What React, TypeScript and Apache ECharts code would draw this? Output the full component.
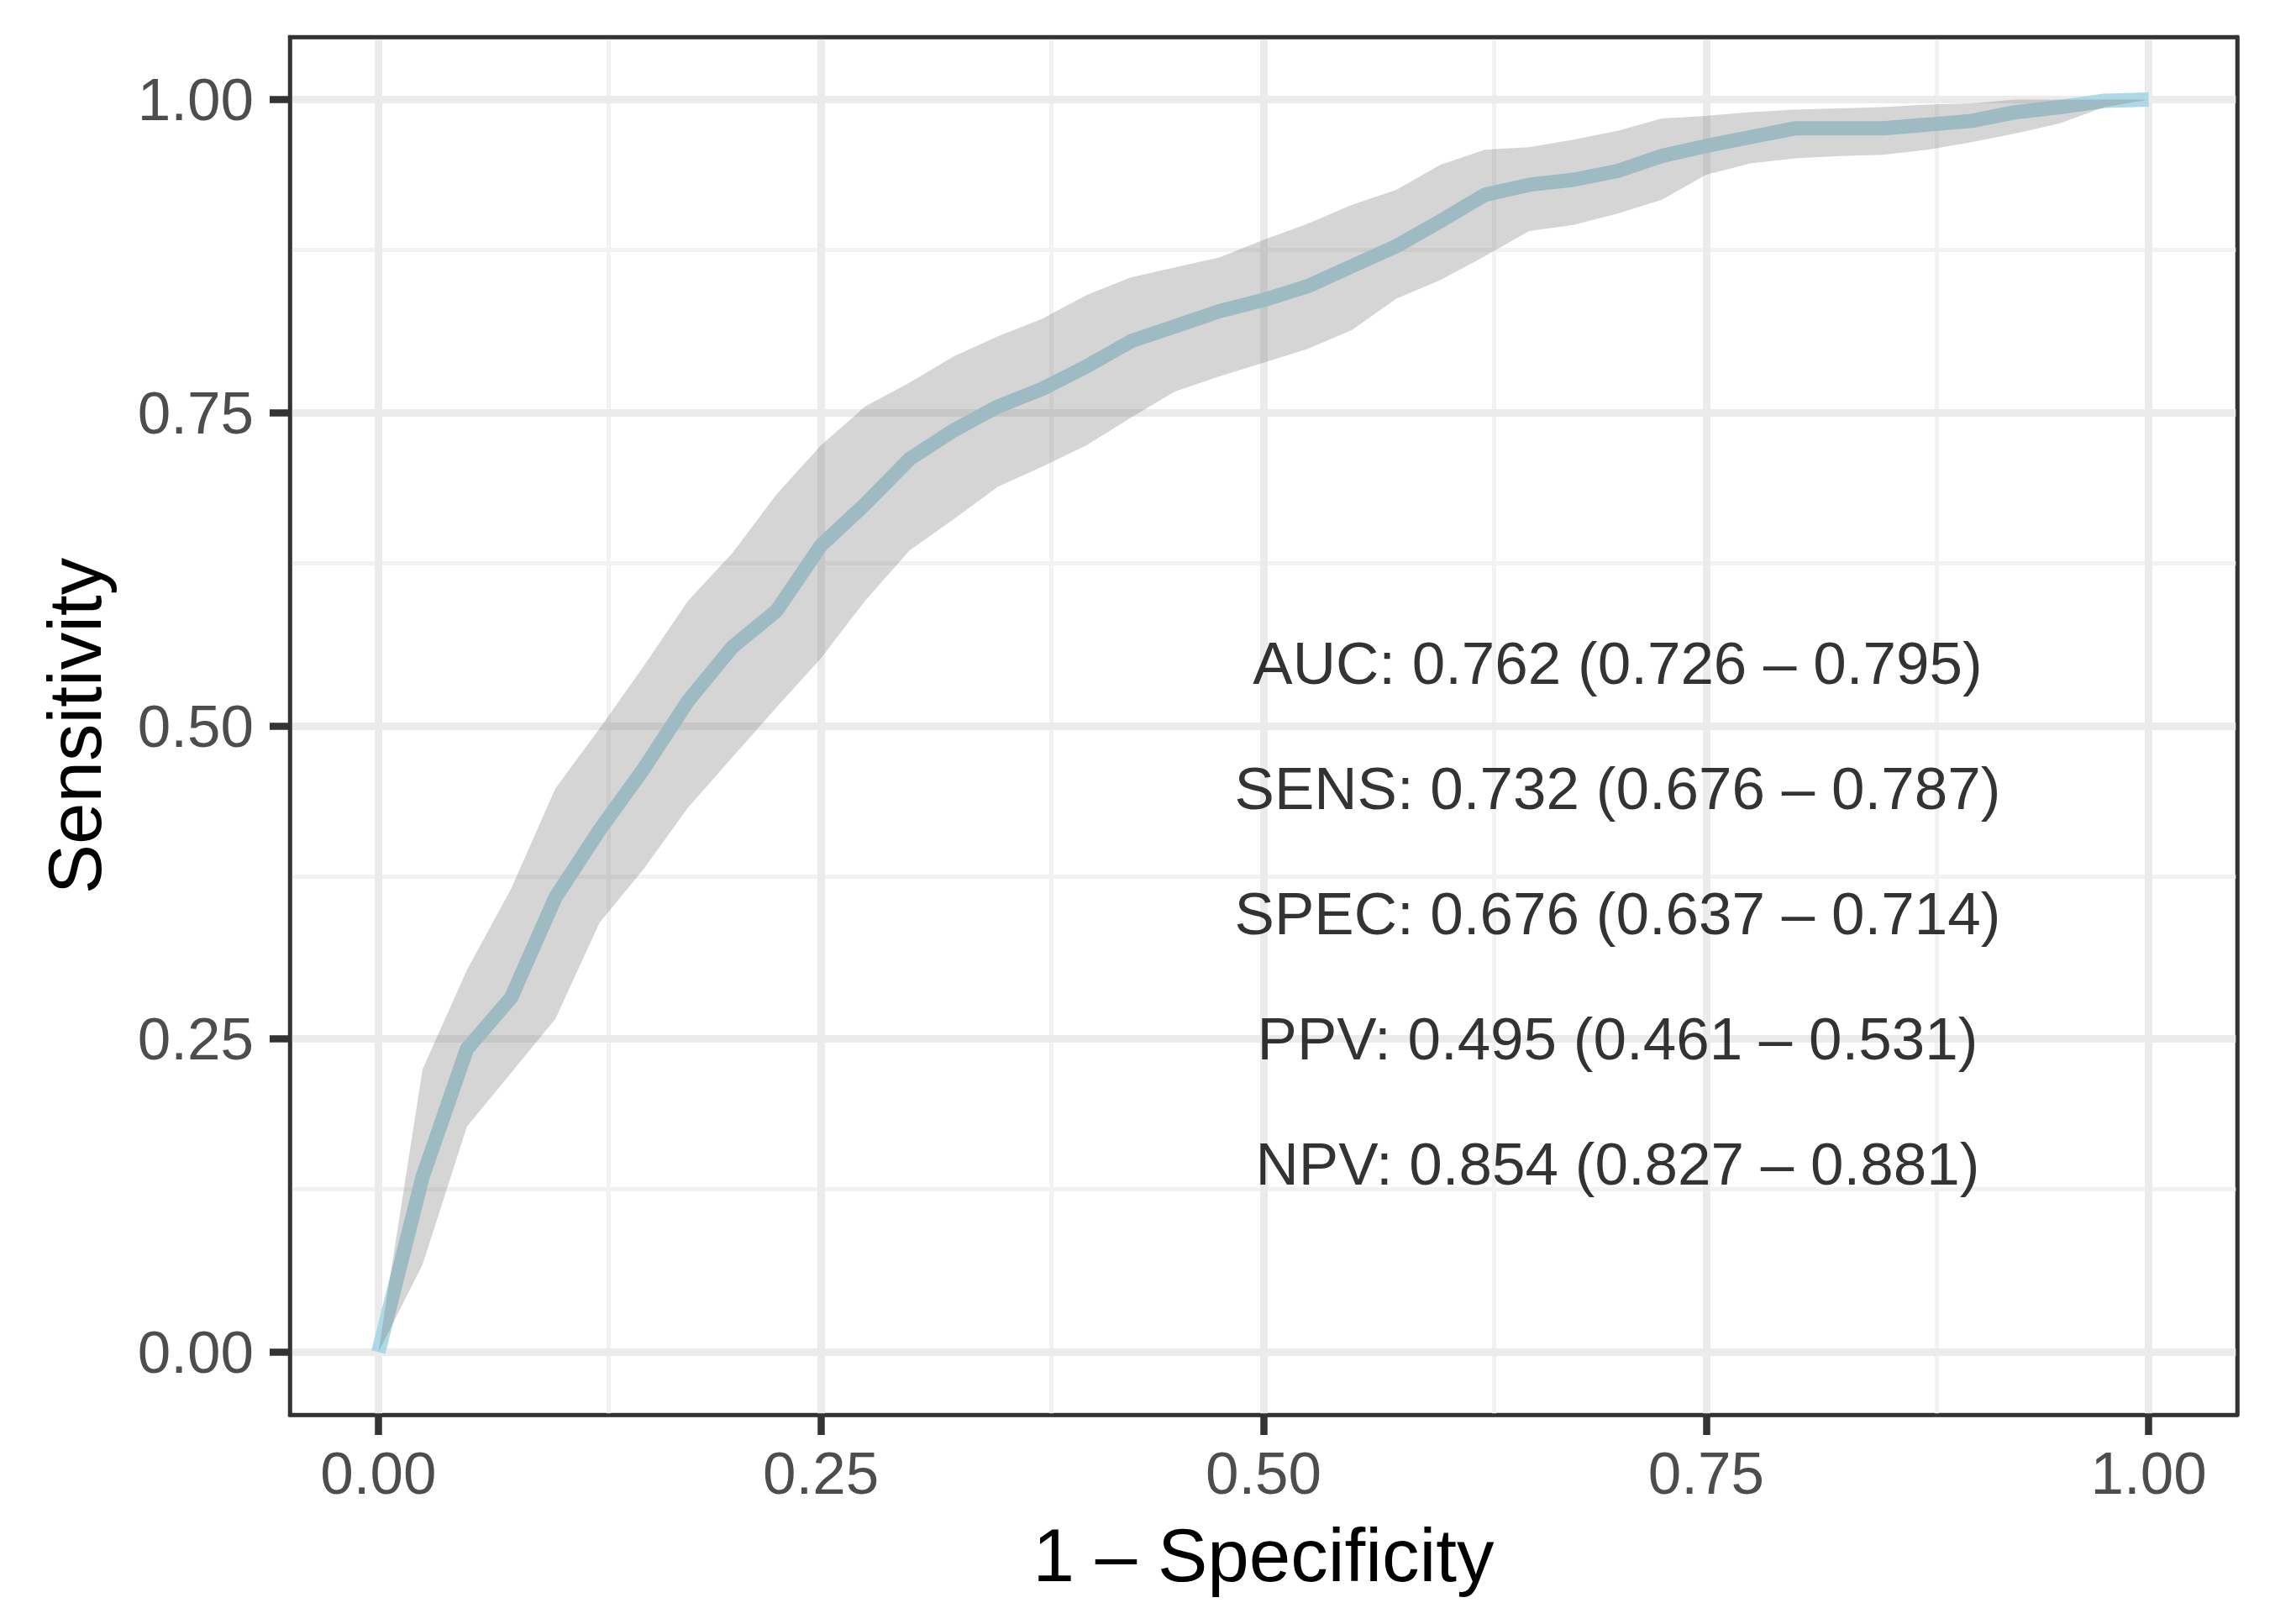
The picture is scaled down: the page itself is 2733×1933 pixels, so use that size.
import React, { useEffect, useRef } from "react";
import * as echarts from "echarts";

// 1 - specificity grid
const fpr = [0, 0.025, 0.05, 0.075, 0.1, 0.125, 0.15, 0.175, 0.2, 0.225, 0.25, 0.275, 0.3, 0.325, 0.35, 0.375, 0.4, 0.425, 0.45, 0.475, 0.5, 0.525, 0.55, 0.575, 0.6, 0.625, 0.65, 0.675, 0.7, 0.725, 0.75, 0.775, 0.8, 0.825, 0.85, 0.875, 0.9, 0.925, 0.95, 0.975, 1];
// sensitivity (ROC curve)
const sens = [0, 0.14, 0.242, 0.283, 0.363, 0.417, 0.466, 0.52, 0.563, 0.592, 0.644, 0.677, 0.713, 0.736, 0.755, 0.769, 0.787, 0.807, 0.819, 0.831, 0.84, 0.851, 0.867, 0.883, 0.903, 0.924, 0.932, 0.936, 0.943, 0.955, 0.963, 0.97, 0.977, 0.977, 0.977, 0.98, 0.983, 0.99, 0.994, 0.999, 1];
// confidence band
const sensUpper = [0, 0.226, 0.305, 0.37, 0.45, 0.498, 0.548, 0.6, 0.638, 0.685, 0.724, 0.755, 0.774, 0.795, 0.811, 0.825, 0.844, 0.858, 0.866, 0.874, 0.888, 0.901, 0.916, 0.928, 0.948, 0.96, 0.962, 0.968, 0.975, 0.985, 0.987, 0.99, 0.992, 0.993, 0.994, 0.996, 0.997, 1, 1, 1, 1];
const sensLower = [0, 0.07, 0.18, 0.223, 0.266, 0.343, 0.386, 0.435, 0.475, 0.515, 0.554, 0.6, 0.64, 0.665, 0.691, 0.707, 0.724, 0.746, 0.767, 0.779, 0.79, 0.801, 0.816, 0.841, 0.856, 0.875, 0.895, 0.9, 0.909, 0.92, 0.94, 0.949, 0.953, 0.955, 0.956, 0.96, 0.966, 0.973, 0.981, 0.994, 1];

// axis breaks
const majorBreaks = [0, 0.25, 0.5, 0.75, 1];
const minorBreaks = [0.125, 0.375, 0.625, 0.875];

// annotation
const statLabels = [
  "AUC: 0.762 (0.726 \u2013 0.795)",
  "SENS: 0.732 (0.676 \u2013 0.787)",
  "SPEC: 0.676 (0.637 \u2013 0.714)",
  "PPV: 0.495 (0.461 \u2013 0.531)",
  "NPV: 0.854 (0.827 \u2013 0.881)",
];
const statX = 0.7;
const statY = [0.55, 0.45, 0.35, 0.25, 0.15];

const FONT = "'Liberation Sans', Arial, Helvetica, sans-serif";

export default function App() {
  const ref = useRef<HTMLDivElement>(null);
  useEffect(() => {
    if (!ref.current) return;
    const chart = echarts.init(ref.current, null, { renderer: "svg" });
    const AX_MIN = -0.05;
    const AX_MAX = 1.05;
    const grey20 = "#333333";
    const major = { color: "#EBEBEB", width: 9, type: "solid" };
    const minor = { color: "#F2F2F2", width: 5, type: "solid" };
    const gridLines = [
      ...minorBreaks.map((v) => ({ xAxis: v, lineStyle: minor })),
      ...minorBreaks.map((v) => ({ yAxis: v, lineStyle: minor })),
      ...majorBreaks.map((v) => ({ xAxis: v, lineStyle: major })),
      ...majorBreaks.map((v) => ({ yAxis: v, lineStyle: major })),
    ];
    const baseAxis = {
      type: "value",
      min: AX_MIN,
      max: AX_MAX,
      splitLine: { show: false },
      z: 10,
    };
    const bandData = fpr.map((x, i) => [x, sensLower[i], sensUpper[i]]);
    chart.setOption({
      animation: false,
      backgroundColor: "#ffffff",
      textStyle: { fontFamily: FONT },
      grid: {
        left: 345,
        top: 44,
        width: 2318,
        height: 1640,
        show: true,
        borderColor: grey20,
        borderWidth: 4.5,
        backgroundColor: "#ffffff",
        containLabel: false,
        outerBoundsMode: "none",
      },
      xAxis: [
        {
          ...baseAxis,
          position: "bottom",
          axisLine: { show: true, onZero: false, lineStyle: { color: grey20, width: 4.5 } },
          axisTick: { show: true, length: 24, customValues: majorBreaks, lineStyle: { color: grey20, width: 8.5 } },
          axisLabel: {
            show: true,
            customValues: majorBreaks,
            formatter: (v: number) => v.toFixed(2),
            color: "#4D4D4D",
            fontSize: 71,
            fontFamily: FONT,
            margin: 34,
          },
          name: "1 \u2013 Specificity",
          nameLocation: "middle",
          nameGap: 122,
          nameTextStyle: { fontSize: 89, color: "#000000", fontFamily: FONT },
        },
        {
          ...baseAxis,
          position: "top",
          axisLine: { show: true, onZero: false, lineStyle: { color: grey20, width: 4.5 } },
          axisTick: { show: false },
          axisLabel: { show: false },
        },
      ],
      yAxis: [
        {
          ...baseAxis,
          position: "left",
          axisLine: { show: true, onZero: false, lineStyle: { color: grey20, width: 4.5 } },
          axisTick: { show: true, length: 24, customValues: majorBreaks, lineStyle: { color: grey20, width: 8.5 } },
          axisLabel: {
            show: true,
            customValues: majorBreaks,
            formatter: (v: number) => v.toFixed(2),
            color: "#4D4D4D",
            fontSize: 71,
            fontFamily: FONT,
            margin: 43,
          },
          name: "Sensitivity",
          nameLocation: "middle",
          nameGap: 212,
          nameRotate: 90,
          nameTextStyle: { fontSize: 89, color: "#000000", fontFamily: FONT },
        },
        {
          ...baseAxis,
          position: "right",
          axisLine: { show: true, onZero: false, lineStyle: { color: grey20, width: 4.5 } },
          axisTick: { show: false },
          axisLabel: { show: false },
        },
      ],
      series: [
        {
          type: "line",
          name: "grid",
          data: [],
          z: 1,
          silent: true,
          markLine: {
            silent: true,
            symbol: ["none", "none"],
            label: { show: false },
            z: 1,
            animation: false,
            lineStyle: { type: "solid" },
            emphasis: { disabled: true },
            data: gridLines,
          },
        },
        {
          type: "line",
          name: "roc",
          data: fpr.map((x, i) => [x, sens[i]]),
          showSymbol: false,
          symbol: "none",
          z: 3,
          silent: true,
          lineStyle: { color: "#ADD8E6", width: 17, join: "round", cap: "butt" },
        },
        {
          type: "custom",
          name: "band",
          data: bandData,
          z: 4,
          silent: true,
          renderItem: (params: any, api: any) => {
            if (params.dataIndex !== 0) return null;
            const top = bandData.map((d) => api.coord([d[0], d[2]]));
            const bottom = bandData.map((d) => api.coord([d[0], d[1]])).reverse();
            return {
              type: "polygon",
              shape: { points: top.concat(bottom) },
              style: { fill: "#7F7F7F", opacity: 0.33, stroke: null },
            };
          },
        },
        {
          type: "scatter",
          name: "stats",
          data: statLabels.map((t, i) => [statX, statY[i], t]),
          symbolSize: 1,
          z: 6,
          silent: true,
          itemStyle: { color: "rgba(0,0,0,0)" },
          label: {
            show: true,
            position: "inside",
            formatter: (p: any) => p.data[2],
            color: "#000000",
            textBorderWidth: 0,
            fontSize: 71,
            fontFamily: FONT,
          },
        },
      ],
    });
    return () => chart.dispose();
  }, []);
  return (
    <div
      ref={ref}
      style={{ position: "absolute", left: 0, top: 0, width: 2733, height: 1933, background: "#fff" }}
    />
  );
}
